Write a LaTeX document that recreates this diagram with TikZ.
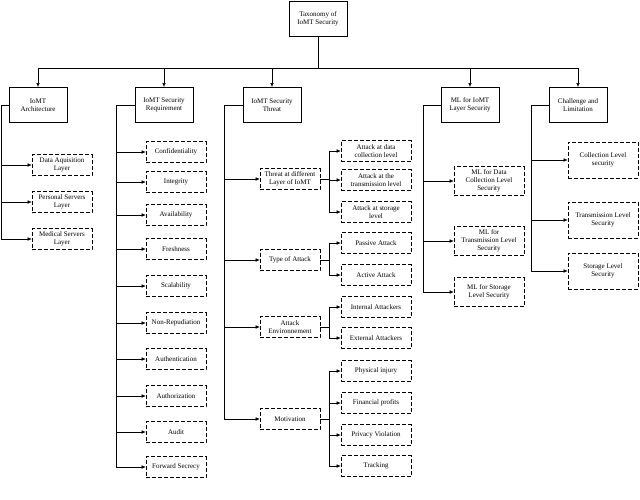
\documentclass[tikz,border=0pt]{standalone}
\usepackage{fontspec}
\setmainfont{Liberation Serif}
\usetikzlibrary{arrows.meta}
\begin{document}
\begin{tikzpicture}[x=1pt,y=-1pt,font=\fontsize{7}{8}\selectfont,
  main/.style={draw,line width=1pt,minimum width=58pt,minimum height=35pt,align=center,inner sep=1pt},
  leaf/.style={draw,dash pattern=on 4pt off 2pt,line width=0.6pt,minimum width=#1,minimum height=21pt,align=center,inner sep=1pt},
  leaf/.default=60pt,
  con/.style={-{Latex[length=4pt,width=3.5pt]},line width=0.5pt}]
\useasboundingbox (0,0) rectangle (640,499);
\node[main] (root) at (318,19) {Taxonomy of\\IoMT Security};
\node[main] (c1) at (38,105) {IoMT\\Architecture};
\node[main] (c2) at (164,105) {IoMT Security\\Requirement};
\node[main] (c3) at (272,105) {IoMT Security\\Threat};
\node[main] (c4) at (470,105) {ML for IoMT\\Layer Security};
\node[main] (c5) at (578,105) {Challenge and\\Limitation};
\coordinate (bus) at (318,68);
\draw[line width=0.6pt] (root.south) -- (bus);
\foreach \c in {c1,c2,c3,c4,c5}{\draw[con] (bus) -| (\c.north);}
% architecture
\node[leaf] (a1) at (62,165) {Data Aquisition\\Layer};
\node[leaf] (a2) at (62,202) {Personal Servers\\Layer};
\node[leaf] (a3) at (62,239) {Medical Servers\\Layer};
\coordinate (s1) at (1,105);
\draw[line width=0.6pt] (c1.west) -- (s1) -- (1,239);
\foreach \n in {a1,a2,a3}{\draw[con] (s1 |- \n.west) -- (\n.west);}
% requirement
\foreach \n/\y/\t in {r1/152/Confidentiality,r2/182/Integrity,r3/215/Availability,r4/249/Freshness,r5/286/Scalability,r6/323/Non-Repudiation,r7/359/Authentication,r8/396/Authorization,r9/432/Audit,r10/467/Forward Secrecy}{\node[leaf] (\n) at (176,\y) {\t};}
\coordinate (s2) at (116,105);
\draw[line width=0.6pt] (c2.west) -- (s2) -- (116,467);
\foreach \n in {r1,r2,r3,r4,r5,r6,r7,r8,r9,r10}{\draw[con] (s2 |- \n.west) -- (\n.west);}
% threat
\node[leaf] (t1) at (290,179) {Threat at different\\Layer of IoMT};
\node[leaf] (t2) at (290,260) {Type of Attack};
\node[leaf] (t3) at (290,327) {Attack\\Environnement};
\node[leaf] (t4) at (290,419) {Motivation};
\coordinate (s3) at (224,105);
\draw[line width=0.6pt] (c3.west) -- (s3) -- (224,419);
\foreach \n in {t1,t2,t3,t4}{\draw[con] (s3 |- \n.west) -- (\n.west);}
\foreach \n/\y/\t in {u1/151/Attack at data\\collection level,u2/180/Attack at the\\transmission level,u3/212/Attack at storage\\level,u4/243/Passive Attack,u5/275/Active Attack,u6/307/Internal Attackers,u7/338/External Attackers,u8/371/Physical injury,u9/403/Financial profits,u10/435/Privacy Violation,u11/466/Tracking}{\node[leaf=70pt] (\n) at (376,\y) {\t};}
\draw[line width=0.6pt] (t1.east) -- (329,179) (329,151) -- (329,212);
\foreach \n in {u1,u2,u3}{\draw[con] (329,0 |- \n.west) -- (\n.west);}
\draw[line width=0.6pt] (t2.east) -- (329,260) (329,243) -- (329,275);
\foreach \n in {u4,u5}{\draw[con] (329,0 |- \n.west) -- (\n.west);}
\draw[line width=0.6pt] (t3.east) -- (329,327) (329,307) -- (329,338);
\foreach \n in {u6,u7}{\draw[con] (329,0 |- \n.west) -- (\n.west);}
\draw[line width=0.6pt] (t4.east) -- (329,419) (329,371) -- (329,466);
\foreach \n in {u8,u9,u10,u11}{\draw[con] (329,0 |- \n.west) -- (\n.west);}
% ML
\node[leaf=70pt,minimum height=29pt] (m1) at (489,181) {ML for Data\\Collection Level\\Security};
\node[leaf=70pt,minimum height=29pt] (m2) at (489,241) {ML for\\Transmission Level\\Security};
\node[leaf=70pt,minimum height=29pt] (m3) at (489,292) {ML for Storage\\Level Security};
\coordinate (s4) at (423,105);
\draw[line width=0.6pt] (c4.west) -- (s4) -- (423,292);
\foreach \n in {m1,m2,m3}{\draw[con] (s4 |- \n.west) -- (\n.west);}
% challenge
\node[leaf=70pt,minimum height=36pt] (h1) at (603,160) {Collection Level\\security};
\node[leaf=70pt,minimum height=36pt] (h2) at (603,220) {Transmission Level\\Security};
\node[leaf=70pt,minimum height=36pt] (h3) at (603,271) {Storage Level\\Security};
\coordinate (s5) at (531,105);
\draw[line width=0.6pt] (c5.west) -- (s5) -- (531,271);
\foreach \n in {h1,h2,h3}{\draw[con] (s5 |- \n.west) -- (\n.west);}
\end{tikzpicture}
\end{document}
